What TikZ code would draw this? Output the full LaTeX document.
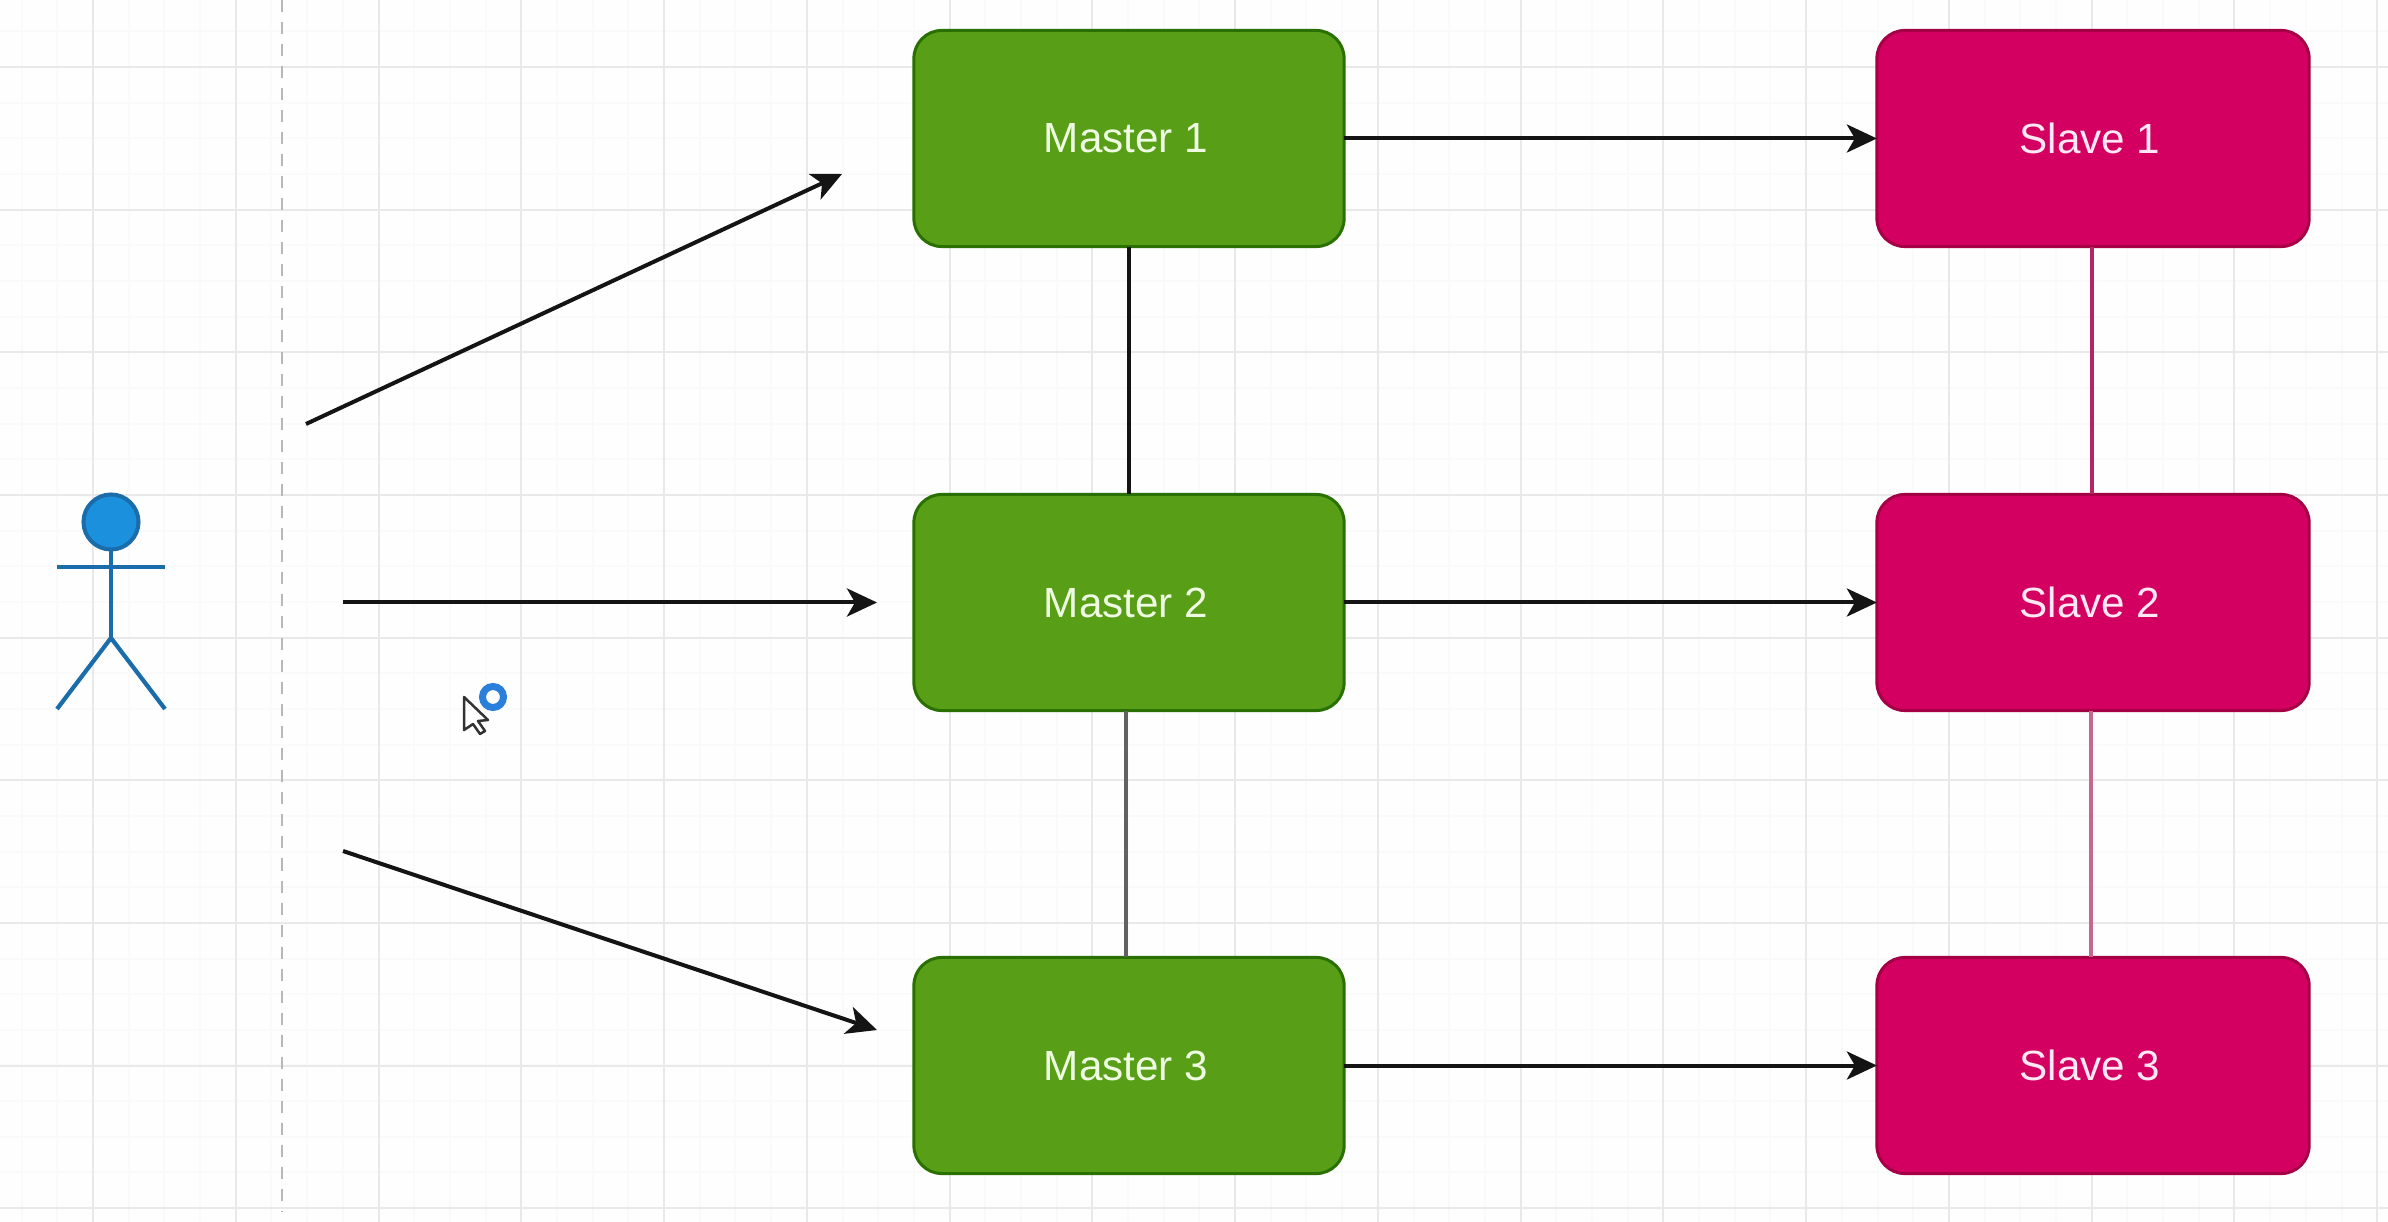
\documentclass[tikz,border=0pt]{standalone}
\usepackage{fontspec}
\setmainfont{Liberation Sans}
\usetikzlibrary{arrows.meta}
\definecolor{gridmaj}{HTML}{E9E9E9}
\definecolor{gridmin}{HTML}{FAFAFA}
\definecolor{greenfill}{HTML}{589F17}
\definecolor{greenline}{HTML}{2A7000}
\definecolor{greentext}{HTML}{EEFBE2}
\definecolor{pinkfill}{HTML}{D30062}
\definecolor{pinkline}{HTML}{A50045}
\definecolor{pinktext}{HTML}{FFE8F4}
\definecolor{actorfill}{HTML}{1B90DC}
\definecolor{actorline}{HTML}{1A6CAA}
\definecolor{ringblue}{HTML}{2A7FDB}
\definecolor{lineblack}{HTML}{141414}
\newcommand{\boxlabel}[1]{#1\hspace*{0.06cm}}
\tikzset{
  gridmajor/.style={draw=gridmaj,line width=0.02cm},
  gridminor/.style={draw=gridmin,line width=0.02cm},
  sepline/.style={draw=black!28,line width=0.025cm,dash pattern=on 0.12cm off 0.10cm},
  masterbox/.style={rectangle,rounded corners=0.28cm,draw=greenline,line width=0.03cm,fill=greenfill,
    minimum width=4.30cm,minimum height=2.16cm,outer sep=0pt,inner sep=0pt,text=greentext,font=\fontsize{12}{14}\selectfont},
  slavebox/.style={rectangle,rounded corners=0.28cm,draw=pinkline,line width=0.03cm,fill=pinkfill,
    minimum width=4.32cm,minimum height=2.16cm,outer sep=0pt,inner sep=0pt,text=pinktext,font=\fontsize{12}{14}\selectfont},
  flow/.style={draw=lineblack,line width=0.04cm,-{Stealth[length=0.30cm,width=0.28cm,inset=0.08cm]}},
  actorstroke/.style={draw=actorline,line width=0.042cm},
}
\begin{document}
\begin{tikzpicture}[x=0.01cm,y=0.01cm]
\useasboundingbox (0,0) rectangle (2388,-1222);
\fill[white!99.5!black] (0,0) rectangle (2388,-1222);
% faint minor grid
\foreach \i in {-2,...,67} \draw[gridminor] ({93+35.69*\i},0) -- ({93+35.69*\i},-1222);
\foreach \i in {-1,...,33} \draw[gridminor] (0,{-67-35.66*\i}) -- (2388,{-67-35.66*\i});
% major grid
\foreach \i in {0,...,16} \draw[gridmajor] ({93+142.75*\i},0) -- ({93+142.75*\i},-1222);
\foreach \i in {0,...,8} \draw[gridmajor] (0,{-67-142.65*\i}) -- (2388,{-67-142.65*\i});
% dashed separator
\coordinate (septop) at (282,0);
\coordinate (sepbot) at (282,-1212);
\draw[sepline] (septop) -- (sepbot);
% nodes
\node[masterbox] (m1) at (1129,-138.5) {\boxlabel{Master 1}};
\node[masterbox] (m2) at (1129,-602.5) {\boxlabel{Master 2}};
\node[masterbox] (m3) at (1129,-1065.5) {\boxlabel{Master 3}};
\node[slavebox] (s1) at (2093,-138.5) {\boxlabel{Slave 1}};
\node[slavebox] (s2) at (2093,-602.5) {\boxlabel{Slave 2}};
\node[slavebox] (s3) at (2093,-1065.5) {\boxlabel{Slave 3}};
% vertical links
\draw[draw=lineblack,line width=0.036cm] (m1.south) -- (m2.north);
\draw[draw=black!62,line width=0.045cm] ([xshift=-0.03cm]m2.south) -- ([xshift=-0.03cm]m3.north);
\draw[draw=pinkline!85!white,line width=0.032cm] ([xshift=-0.01cm]s1.south) -- ([xshift=-0.01cm]s2.north);
\draw[draw=pinkline!60!white,line width=0.045cm] ([xshift=-0.02cm]s2.south) -- ([xshift=-0.02cm]s3.north);
% horizontal arrows
\draw[flow] (m1.east) -- (s1.west);
\draw[flow] (m2.east) -- (s2.west);
\draw[flow] (m3.east) -- (s3.west);
% client arrows
\coordinate (c1) at (306,-424);
\coordinate (t1) at (842,-174);
\coordinate (c2) at (343,-602.5);
\coordinate (t2) at (877,-602.5);
\coordinate (c3) at (343,-851);
\coordinate (t3) at (877,-1030);
\draw[flow] (c1) -- (t1);
\draw[flow] (c2) -- (t2);
\draw[flow] (c3) -- (t3);
% actor
\node[circle,draw=actorline,line width=0.04cm,fill=actorfill,minimum size=0.55cm,inner sep=0pt,outer sep=0pt] (head) at (111,-522) {};
\coordinate (hip) at (111,-638);
\coordinate (armL) at (57,-567);
\coordinate (armR) at (165,-567);
\coordinate (legL) at (57,-709);
\coordinate (legR) at (165,-709);
\draw[actorstroke] (head.south) -- (hip);
\draw[actorstroke] (armL) -- (armR);
\draw[actorstroke] (legL) -- (hip) -- (legR);
% mouse pointer with busy ring
\draw[fill=white,draw=black!80,line width=0.025cm,line join=round] (464,-697) -- ++(0,-33) -- ++(9,6) -- ++(7,-10) -- ++(5,3) -- ++(-7,10) -- ++(10,1) -- cycle;
\draw[draw=ringblue,line width=0.07cm] (493,-697) circle (0.105cm);
\end{tikzpicture}
\end{document}
